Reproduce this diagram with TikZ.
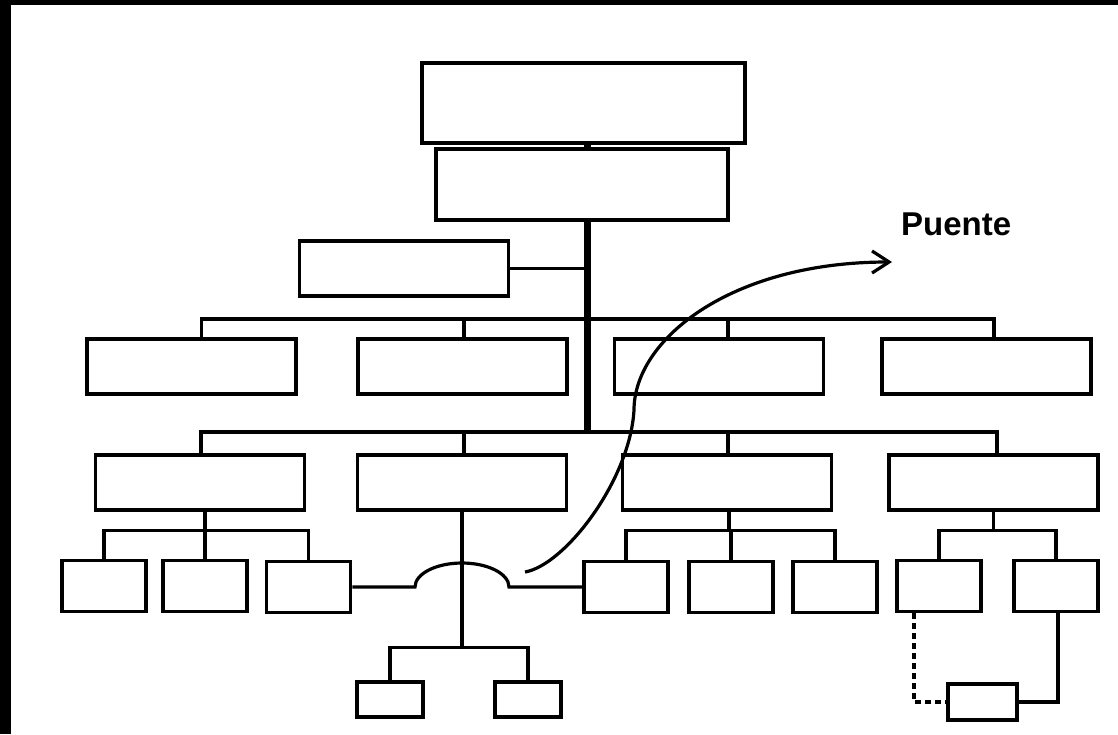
\documentclass[tikz,border=0pt]{standalone}
\usepackage{fontspec}
\newfontfamily\labelfont{Liberation Sans}
\usetikzlibrary{arrows.meta}

\begin{document}
\begin{tikzpicture}[x=1pt, y=-1pt, >={Straight Barb[length=17pt,width=22pt]},
            box/.style={draw, line width=3.6pt, inner sep=0pt, minimum height=55pt},
            wide/.style={box, minimum width=209pt},
            small/.style={box, minimum width=84pt, minimum height=51pt},
            tiny/.style={box, minimum width=66pt, minimum height=35pt},
            link/.style={line width=3.2pt},
            trunk/.style={line width=7pt},
            dashline/.style={line width=3.2pt, dash pattern=on 6pt off 4pt}]
            \useasboundingbox (0,0) rectangle (1118,734);
            \fill[black] (0,0) rectangle (1118,734);
            \fill[white] (11,5) rectangle (1118,734);

            \node[box, minimum width=323pt, minimum height=80pt] (head) at (583.5,103) {};
            \node[box, minimum width=292pt, minimum height=71pt] (sub) at (582,184.5) {};
            \node[wide] (side) at (404,268.5) {};
            \coordinate (hub1) at (587,319);
            \coordinate (hub2) at (587,432);

            \node[wide] (r1a) at (191.5,366.5) {};
            \node[wide] (r1b) at (462.5,366.5) {};
            \node[wide] (r1c) at (719,366.5) {};
            \node[wide] (r1d) at (986.5,366.5) {};

            \node[wide] (r2a) at (200,482.5) {};
            \node[wide] (r2b) at (462,482.5) {};
            \node[wide] (r2c) at (727,482.5) {};
            \node[wide] (r2d) at (993.5,482.5) {};

            \node[small] (la) at (104,586) {};
            \node[small] (lb) at (205,586) {};
            \node[small] (lc) at (308.5,587) {};
            \node[small] (ma) at (626,587) {};
            \node[small] (mb) at (731,587) {};
            \node[small] (mc) at (835,587) {};
            \node[small] (ra) at (939,586) {};
            \node[small] (rb) at (1056,586) {};

            \node[tiny] (sa) at (390,699.5) {};
            \node[tiny] (sb) at (528,699.5) {};
            \node[tiny, minimum width=69pt, minimum height=36pt] (tail) at (982.5,702) {};

            \node[font=\labelfont\bfseries\fontsize{33}{40}\selectfont, inner sep=0pt, anchor=base west] (puente) at (901,235) {Puente};

            \draw[trunk] (head.south -| hub1) -- (sub.north -| hub1);
            \draw[trunk] (sub.south -| hub1) -- (hub2);
            \draw[link] (side.east) -- (side.east -| hub1);

            \draw[link] ([xshift=10pt]r1a.north) |- (hub1);
            \draw[link] ([xshift=1.5pt]r1b.north) |- (hub1);
            \draw[link] ([xshift=9pt]r1c.north) |- (hub1);
            \draw[link] ([xshift=7.5pt]r1d.north) |- (hub1);

            \draw[link] ([xshift=1pt]r2a.north) |- (hub2);
            \draw[link] ([xshift=2pt]r2b.north) |- (hub2);
            \draw[link] ([xshift=1pt]r2c.north) |- (hub2);
            \draw[link] ([xshift=3.5pt]r2d.north) |- (hub2);

            \draw[link] (r2a.south) ++(5pt,0) -- ++(0,19) coordinate (ga);
            \draw[link] (la.north) |- (ga);
            \draw[link] (lb.north) |- (ga);
            \draw[link] (lc.north) |- (ga);

            \draw[link] (r2b.south) -- ++(0,136) coordinate (gb);
            \draw[link] (sa.north) |- (gb);
            \draw[link] (sb.north) |- (gb);
            \draw[link] (lc.east) -- ([xshift=-47pt]lc.east -| r2b.south)
                arc[start angle=180, end angle=0, x radius=47pt, y radius=24pt] -- (ma.west);

            \draw[link] (r2c.south) ++(2pt,0) -- ++(0,19) coordinate (gm);
            \draw[link] (ma.north) |- (gm);
            \draw[link] (mb.north) |- (gm);
            \draw[link] (mc.north) |- (gm);

            \draw[link] (r2d.south) -- ++(0,19) coordinate (gr);
            \draw[link] (ra.north) |- (gr);
            \draw[link] (rb.north) |- (gr);
            \draw[dashline] ([xshift=-25pt]ra.south) |- (tail.west);
            \draw[link] ([xshift=2pt]rb.south) |- (tail.east);

            \coordinate (bend) at (525,572);
            \coordinate (tip) at (892,262);
            \draw[->, line width=3.2pt] (bend) .. controls (565,565) and (630,480) .. (634,410)
                .. controls (634,340) and (730,262) .. (tip);
        \end{tikzpicture}
\end{document}
